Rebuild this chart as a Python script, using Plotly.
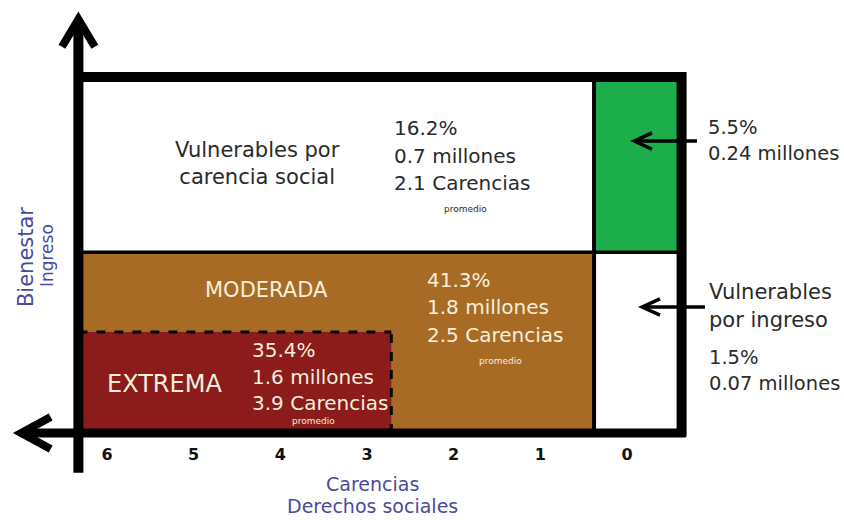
import plotly.graph_objects as go

# ---- data ----
carencias_ticks = [6, 5, 4, 3, 2, 1, 0]
grupos = ["Vulnerables por carencia social", "No pobres y no vulnerables",
          "Pobreza moderada", "Vulnerables por ingreso", "Pobreza extrema"]
porcentaje = [16.2, 5.5, 41.3, 1.5, 35.4]
millones = [0.7, 0.24, 1.8, 0.07, 1.6]
carencias_promedio = [2.1, None, 2.5, None, 3.9]

# ---- diagram structure (carencias on x, normalised income on y) ----
X_LEFT, X_RIGHT, X_DIV, X_EXT = 6.33, -0.63, 0.38, 2.72
Y_TOP, Y_MID, Y_EXT = 1.0, 0.508, 0.284

GREEN = "#1dae4c"
BROWN = "#a86b26"
RED = "#8c1b1b"
DARK = "#2a2a2a"
LIGHT = "#f6eedc"
TITLE = "#4a4a9c"
FONT = "DejaVu Sans"

fig = go.Figure()

shapes = []
# filled regions
shapes.append(dict(type="rect", x0=X_LEFT, x1=X_DIV, y0=0, y1=Y_MID,
                   fillcolor=BROWN, line=dict(width=0), layer="below"))
shapes.append(dict(type="rect", x0=X_LEFT, x1=X_EXT, y0=0, y1=Y_EXT,
                   fillcolor=RED, line=dict(width=0), layer="below"))
shapes.append(dict(type="rect", x0=X_DIV, x1=X_RIGHT, y0=Y_MID, y1=Y_TOP,
                   fillcolor=GREEN, line=dict(width=0), layer="below"))

def seg(x0, y0, x1, y1, w, dash="solid"):
    return dict(type="line", x0=x0, y0=y0, x1=x1, y1=y1,
                line=dict(color="black", width=w, dash=dash))

def path(pts, w):
    d = "M " + " L ".join(f"{x},{y}" for x, y in pts)
    return dict(type="path", path=d, line=dict(color="black", width=w))

# inner dividers
shapes.append(seg(X_LEFT, Y_MID, X_RIGHT, Y_MID, 3.5))
shapes.append(seg(X_DIV, 0, X_DIV, Y_TOP, 4))
# dashed extreme-poverty border
shapes.append(seg(X_LEFT, Y_EXT, X_EXT, Y_EXT, 3, "dash"))
shapes.append(seg(X_EXT, 0, X_EXT, Y_EXT, 3, "dash"))
# outer frame (top + right)
shapes.append(path([(X_LEFT, Y_TOP), (X_RIGHT, Y_TOP), (X_RIGHT, -0.01)], 10))
# axes
shapes.append(seg(X_LEFT, -0.112, X_LEFT, 1.16, 10))
shapes.append(seg(6.98, 0, -0.68, 0, 9))
# axis arrowheads
shapes.append(path([(6.52, 1.085), (X_LEFT, 1.162), (6.14, 1.085)], 8))
shapes.append(path([(6.65, 0.045), (6.99, 0), (6.65, -0.045)], 8))
# callout arrows
shapes.append(seg(-0.808, 0.820, -0.09, 0.820, 3.5))
shapes.append(path([(-0.288, 0.843), (-0.085, 0.820), (-0.288, 0.797)], 3.5))
shapes.append(seg(-0.90, 0.354, -0.18, 0.354, 3.5))
shapes.append(path([(-0.381, 0.377), (-0.175, 0.354), (-0.381, 0.331)], 3.5))

# tick labels via a text trace
fig.add_trace(go.Scatter(
    x=carencias_ticks, y=[-0.0646] * len(carencias_ticks),
    mode="text", text=[str(t) for t in carencias_ticks],
    textfont=dict(family=FONT, size=16, color="#111111", weight="bold"),
    hoverinfo="skip", showlegend=False))

ann = []

def txt(x, y, s, size=20, color=DARK, anchor="left", angle=0):
    ann.append(dict(x=x, y=y, xref="x", yref="y", text=s, showarrow=False,
                    xanchor=anchor, yanchor="middle", textangle=angle,
                    font=dict(family=FONT, size=size, color=color)))

# Vulnerables por carencia social
txt(4.269, 0.758, "Vulnerables por<br>carencia social", 21, DARK, "center")
txt(2.712, 0.857, f"{porcentaje[0]}%", 20)
txt(2.712, 0.778, f"{millones[0]} millones", 20)
txt(2.712, 0.702, f"{carencias_promedio[0]} Carencias", 20)
txt(1.858, 0.629, "promedio", 9, DARK, "center")

# No pobres y no vulnerables (green)
txt(-0.912, 0.857, f"{porcentaje[1]}%", 19.5)
txt(-0.912, 0.784, f"{millones[1]} millones", 19.5)

# Pobreza moderada
txt(4.154, 0.402, "MODERADA", 21, LIGHT, "center")
txt(2.331, 0.430, f"{porcentaje[2]}%", 20, LIGHT)
txt(2.331, 0.354, f"{millones[2]} millones", 20, LIGHT)
txt(2.331, 0.275, f"{carencias_promedio[2]} Carencias", 20, LIGHT)
txt(1.465, 0.202, "promedio", 9, LIGHT, "center")

# Vulnerables por ingreso
txt(-0.923, 0.396, "Vulnerables", 21)
txt(-0.923, 0.317, "por ingreso", 21)
txt(-0.923, 0.213, f"{porcentaje[3]}%", 19.5)
txt(-0.923, 0.138, f"{millones[3]} millones", 19.5)

# Pobreza extrema
txt(5.331, 0.138, "EXTREMA", 24, LIGHT, "center")
txt(4.35, 0.233, f"{porcentaje[4]}%", 20, LIGHT)
txt(4.35, 0.157, f"{millones[4]} millones", 20, LIGHT)
txt(4.35, 0.084, f"{carencias_promedio[4]} Carencias", 20, LIGHT)
txt(3.623, 0.034, "promedio", 9, LIGHT, "center")

# axis titles
txt(2.931, -0.143, "Carencias", 19, TITLE, "center")
txt(2.931, -0.205, "Derechos sociales", 19, TITLE, "center")
txt(6.935, 0.494, "Bienestar", 21, TITLE, "center", -90)
txt(6.692, 0.497, "Ingreso", 17, TITLE, "center", -90)

fig.update_layout(
    width=844, height=520,
    margin=dict(l=0, r=0, t=0, b=0),
    paper_bgcolor="white", plot_bgcolor="white",
    xaxis=dict(range=[7.2346, -2.504], visible=False, fixedrange=True),
    yaxis=dict(range=[-0.2444, 1.2163], visible=False, fixedrange=True),
    shapes=shapes, annotations=ann, showlegend=False,
)

fig.write_html("out.html", config={"displayModeBar": False},
               post_script="document.body.style.margin='0';document.body.style.overflow='hidden';")
